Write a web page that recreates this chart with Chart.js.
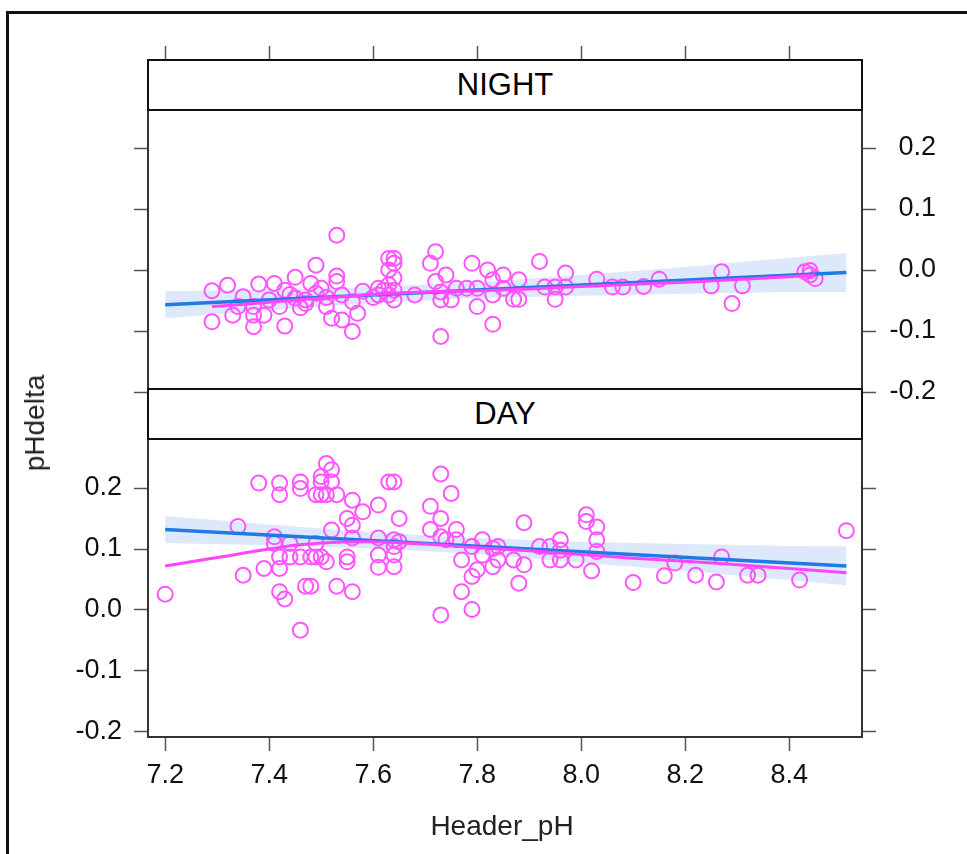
<!DOCTYPE html>
<html>
<head>
<meta charset="utf-8">
<script src="https://cdn.jsdelivr.net/npm/chart.js@4/dist/chart.umd.min.js"></script>
<style>
    html, body { margin: 0; padding: 0; background: #fff; overflow: hidden; }
    body { width: 967px; height: 854px; position: relative; font-family: 'Liberation Sans', Arial, sans-serif; }
    canvas { position: absolute; left: 0; top: 0; }
    .frame { position: absolute; left: 6px; top: 11px; width: 1000px; height: 1000px; border: 3px solid #111; }
    .strip {
        position: absolute; left: 147px; width: 712px; height: 48px;
        border: 2px solid #111; background: #fff; color: #000;
        text-align: center; line-height: 48px; font-size: 31px;
    }
    .title { position: absolute; font-size: 28px; color: #222; white-space: nowrap; }
</style>
</head>
<body>
<div class="frame"></div>
<canvas id="night" width="967" height="854"></canvas>
<canvas id="day" width="967" height="854"></canvas>
<div class="strip" style="top: 59px">NIGHT</div>
<div class="strip" style="top: 388px">DAY</div>
<div class="title" style="left: 35px; top: 423px; transform: translate(-50%, -50%) rotate(-90deg)">pHdelta</div>
<div class="title" style="left: 502px; top: 826px; transform: translate(-50%, -50%)">Header_pH</div>
<script>
//
// Data
//

const X_TICKS = [ 7.2, 7.4, 7.6, 7.8, 8.0, 8.2, 8.4 ]
const Y_TICKS = [ -0.2, -0.1, 0.0, 0.1, 0.2 ]

const nightX = [
    7.53, 7.29, 7.32, 7.29, 7.35, 7.38, 7.41, 7.45, 7.49, 7.53, 7.53, 7.48,
    7.33, 7.37, 7.37, 7.39, 7.43, 7.42, 7.43, 7.46, 7.47, 7.49, 7.50, 7.51,
    7.52, 7.54, 7.56, 7.57, 7.54, 7.56, 7.61, 7.61, 7.40, 7.34, 7.45, 7.37,
    7.44, 7.47, 7.51, 7.58, 7.60,
    7.63, 7.64, 7.64, 7.63, 7.64, 7.63, 7.64, 7.63, 7.64, 7.62,
    7.72, 7.71, 7.72, 7.74, 7.73, 7.73, 7.75, 7.76, 7.73, 7.68,
    7.79, 7.78, 7.80, 7.80, 7.82, 7.83, 7.83, 7.85, 7.85, 7.83,
    7.87, 7.88, 7.88, 7.92, 7.93, 7.95, 7.95, 7.97, 7.97,
    8.03, 8.06, 8.08, 8.12, 8.15, 8.25, 8.27, 8.29, 8.31,
    8.43, 8.44, 8.45, 8.44,
]
const nightY = [
    0.057, -0.034, -0.025, -0.085, -0.044, -0.023, -0.022, -0.012, 0.008, -0.010, -0.019, -0.022,
    -0.074, -0.074, -0.093, -0.074, -0.092, -0.060, -0.033, -0.062, -0.049, -0.038, -0.030, -0.060,
    -0.079, -0.082, -0.101, -0.071, -0.041, -0.052, -0.030, -0.041, -0.049, -0.060, -0.046, -0.060,
    -0.040, -0.055, -0.045, -0.035, -0.045,
    0.019, 0.019, 0.011, 0.000, -0.013, -0.024, -0.033, -0.041, -0.049, -0.033,
    0.030, 0.011, -0.019, -0.008, -0.036, -0.049, -0.049, -0.030, -0.109, -0.041,
    0.011, -0.030, -0.030, -0.060, 0.000, -0.016, -0.041, -0.008, -0.030, -0.089,
    -0.048, -0.048, -0.016, 0.014, -0.028, -0.048, -0.028, -0.005, -0.028,
    -0.015, -0.028, -0.028, -0.027, -0.015, -0.026, -0.003, -0.055, -0.026,
    -0.003, -0.001, -0.014, -0.008,
]

const dayX = [
    7.20, 7.34, 7.35, 7.38, 7.39, 7.42, 7.42, 7.41, 7.41, 7.42, 7.42, 7.42,
    7.43, 7.44, 7.44, 7.46, 7.46, 7.46, 7.46, 7.47, 7.48, 7.48, 7.49, 7.49,
    7.49, 7.50, 7.50, 7.51, 7.52, 7.50, 7.51, 7.53, 7.52, 7.52, 7.50, 7.51,
    7.53, 7.55, 7.56, 7.56, 7.55, 7.55, 7.56, 7.58, 7.56, 7.61, 7.61, 7.61,
    7.63, 7.61, 7.64, 7.65, 7.64, 7.64, 7.64, 7.64, 7.65,
    7.73, 7.75, 7.71, 7.73, 7.71, 7.76, 7.73, 7.74, 7.76, 7.77, 7.81, 7.79,
    7.81, 7.80, 7.79, 7.77, 7.73, 7.79, 7.83, 7.83, 7.84, 7.84, 7.87, 7.89,
    7.89, 7.88, 7.92, 7.94, 7.94, 7.96, 7.96, 7.96, 7.99, 8.01, 8.01, 8.03,
    8.03, 8.03, 8.02, 8.10, 8.16, 8.18, 8.22, 8.26, 8.27, 8.32, 8.34, 8.42,
    8.51,
]
const dayY = [
    0.026, 0.137, 0.057, 0.208, 0.068, 0.208, 0.189, 0.120, 0.109, 0.087, 0.068, 0.030,
    0.018, 0.109, 0.087, 0.210, 0.199, 0.087, -0.033, 0.039, 0.039, 0.087, 0.189, 0.109,
    0.087, 0.210, 0.219, 0.240, 0.230, 0.189, 0.189, 0.189, 0.210, 0.131, 0.087, 0.079,
    0.039, 0.150, 0.180, 0.139, 0.087, 0.079, 0.030, 0.161, 0.118, 0.172, 0.090, 0.070,
    0.210, 0.118, 0.210, 0.150, 0.115, 0.104, 0.090, 0.071, 0.112,
    0.223, 0.191, 0.170, 0.150, 0.132, 0.132, 0.120, 0.115, 0.115, 0.082, 0.115, 0.104,
    0.090, 0.066, 0.055, 0.030, -0.008, 0.001, 0.101, 0.071, 0.082, 0.104, 0.082, 0.074,
    0.143, 0.044, 0.104, 0.104, 0.082, 0.115, 0.098, 0.082, 0.082, 0.156, 0.145, 0.136,
    0.115, 0.096, 0.064, 0.045, 0.056, 0.077, 0.057, 0.046, 0.087, 0.057, 0.057, 0.049,
    0.130,
]

// linear fit with its confidence band
const fitX = [ 7.2, 8.51 ]
const nightFitY = [ -0.057, -0.004 ]
const dayFitY = [ 0.132, 0.072 ]

const bandX = [ 7.2, 7.4, 7.6, 7.8, 8.0, 8.2, 8.4, 8.51 ]
const nightUpper = [ -0.035, -0.032, -0.028, -0.020, -0.008, 0.005, 0.020, 0.028 ]
const nightLower = [ -0.079, -0.066, -0.054, -0.046, -0.042, -0.039, -0.036, -0.036 ]
const dayUpper = [ 0.154, 0.140, 0.127, 0.118, 0.112, 0.108, 0.105, 0.104 ]
const dayLower = [ 0.110, 0.106, 0.101, 0.092, 0.078, 0.064, 0.049, 0.040 ]

// smooth (loess) curves
const nightSmoothX = [ 7.29, 7.4, 7.5, 7.6, 7.7, 7.8, 7.9, 8.0, 8.2, 8.4, 8.45 ]
const nightSmoothY = [ -0.060, -0.053, -0.046, -0.040, -0.036, -0.034, -0.031, -0.027, -0.020, -0.011, -0.008 ]
const daySmoothX = [ 7.2, 7.3, 7.4, 7.45, 7.5, 7.6, 7.7, 7.8, 7.9, 8.0, 8.1, 8.2, 8.3, 8.4, 8.51 ]
const daySmoothY = [ 0.072, 0.086, 0.100, 0.106, 0.110, 0.112, 0.108, 0.102, 0.097, 0.091, 0.085, 0.080, 0.074, 0.068, 0.061 ]

//
// Helpers
//

const MAGENTA = '#ff44ff'
const POINT = '#ff55ff'
const BLUE = '#1f7ae3'
const BAND = 'rgba(100, 150, 230, 0.22)'
const FONT = { family: "'Liberation Sans', Arial, sans-serif", size: 27 }

const toPoints = (xs, ys) => xs.map((x, i) => ({ x, y: ys[i] }))
const fixedTicks = (values) => (scale) => { scale.ticks = values.map((value) => ({ value })) }
const fixedSize = (key, size) => (scale) => { scale[key] = size }

const grid = { drawOnChartArea: false, tickLength: 14, color: '#555', tickWidth: 1.5 }
const border = { display: true, color: '#333', width: 2 }

function xScale (position, showLabels) {
    return {
        type: 'linear',
        position,
        min: 7.167,
        max: 8.54,
        afterBuildTicks: fixedTicks(X_TICKS),
        afterFit: fixedSize('height', 60),
        grid,
        border: { ...border, display: position === 'bottom' },
        ticks: {
            display: showLabels, padding: 8, maxRotation: 0, autoSkip: false,
            color: '#111', font: FONT, callback: (v) => v.toFixed(1),
        },
    }
}

function yScale (position, showLabels, min, max) {
    return {
        type: 'linear',
        position,
        min,
        max,
        afterBuildTicks: fixedTicks(Y_TICKS),
        afterFit: fixedSize('width', position === 'left' ? 148 : 74),
        grid,
        border,
        ticks: {
            display: showLabels, padding: 12, crossAlign: position === 'right' ? 'far' : 'near',
            color: '#111', font: FONT, callback: (v) => v.toFixed(1),
        },
    }
}

function datasets (ptsX, ptsY, fitY, upper, lower, smoothX, smoothY) {
    const common = { xAxisID: 'x', yAxisID: 'yL' }
    return [
        { ...common, data: toPoints(smoothX, smoothY), borderColor: MAGENTA, borderWidth: 3,
            pointRadius: 0, cubicInterpolationMode: 'monotone', order: 0 },
        { ...common, data: toPoints(fitX, fitY), borderColor: BLUE, borderWidth: 3.5,
            pointRadius: 0, order: 0 },
        { ...common, data: toPoints(ptsX, ptsY), showLine: false, pointRadius: 7.5,
            pointHoverRadius: 7.5, pointBorderWidth: 2, pointBorderColor: POINT,
            pointBackgroundColor: 'rgba(0,0,0,0)', order: 1 },
        { ...common, data: toPoints(bandX, upper), borderWidth: 0, pointRadius: 0,
            fill: '+1', backgroundColor: BAND, order: 2 },
        { ...common, data: toPoints(bandX, lower), borderWidth: 0, pointRadius: 0,
            fill: false, order: 2 },
    ]
}

function panel (id, data, scales, padding) {
    return new Chart(document.getElementById(id), {
        type: 'line',
        data: { datasets: data },
        options: {
            responsive: false,
            animation: false,
            events: [],
            layout: { padding },
            plugins: { legend: { display: false }, tooltip: { enabled: false } },
            scales,
        },
    })
}

//
// Panels
//

panel(
    'night',
    datasets(nightX, nightY, nightFitY, nightUpper, nightLower, nightSmoothX, nightSmoothY),
    {
        x: xScale('top', false),
        yL: yScale('left', false, -0.2, 0.3443),
        yR: yScale('right', true, -0.2, 0.3443),
    },
    { top: 0, left: 0, right: 31, bottom: 462 }
)

panel(
    'day',
    datasets(dayX, dayY, dayFitY, dayUpper, dayLower, daySmoothX, daySmoothY),
    {
        x: xScale('bottom', true),
        yL: yScale('left', true, -0.2082, 0.3623),
        yR: yScale('right', false, -0.2082, 0.3623),
    },
    { top: 389, left: 0, right: 31, bottom: 57 }
)
</script>
</body>
</html>
